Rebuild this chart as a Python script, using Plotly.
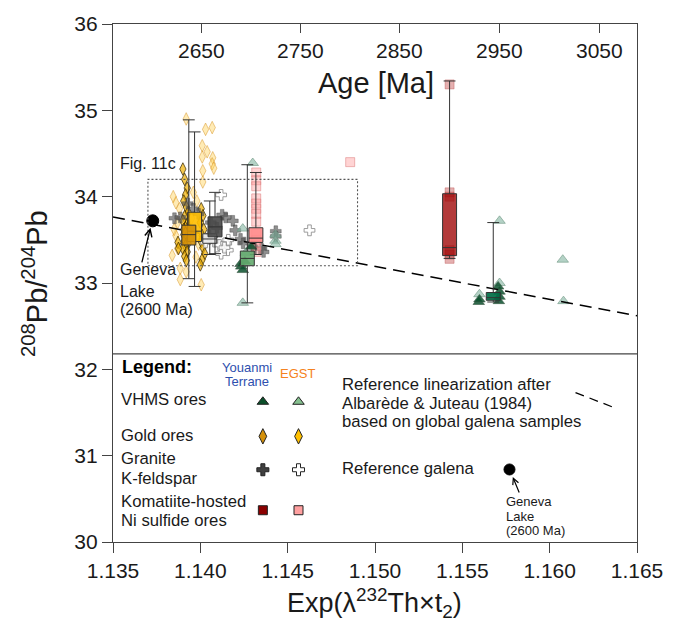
import numpy as np
import plotly.graph_objects as go

FONT = "Liberation Sans, Arial, sans-serif"
LAMBDA_232 = 4.9475e-11  # 1/yr

# ---------------- axes ----------------
x_ticks = [1.135, 1.140, 1.145, 1.150, 1.155, 1.160, 1.165]
y_ticks = [30, 31, 32, 33, 34, 35, 36]
age_ticks = [2650, 2750, 2850, 2950, 3050]
age_pos = list(np.exp(LAMBDA_232 * np.array(age_ticks) * 1e6))

# ---------------- data ----------------
# Gold ores
gold_egst_x = [1.13919, 1.14030, 1.14068, 1.14011, 1.14039, 1.14011, 1.14071, 1.14068, 1.14077, 1.14014,
               1.14014, 1.13845, 1.13860, 1.13881, 1.13870, 1.13839, 1.13885, 1.13885, 1.14005, 1.13919,
               1.13960, 1.13980, 1.13950, 1.13990, 1.13860, 1.13975, 1.13850, 1.13870]
gold_egst_y = [34.90, 34.78, 34.80, 34.59, 34.52, 34.46, 34.45, 34.38, 34.33, 34.30,
               34.17, 34.00, 33.93, 33.86, 33.70, 33.32, 33.17, 33.04, 32.98, 33.13,
               34.05, 33.95, 33.75, 33.45, 33.55, 33.30, 33.62, 33.40]
gold_you_x = [1.13900, 1.13910, 1.13925, 1.13915, 1.13905, 1.13920, 1.13930, 1.13910, 1.13900, 1.13925,
              1.13915, 1.13935, 1.13905, 1.13920, 1.13910, 1.13930, 1.13915, 1.13900, 1.13925, 1.13910,
              1.13920, 1.13905, 1.13915, 1.14005, 1.14015, 1.14000, 1.14020, 1.14010, 1.14005, 1.14015,
              1.14025, 1.14010, 1.14000, 1.13872, 1.13875]
gold_you_y = [34.32, 34.20, 34.10, 34.02, 33.95, 33.88, 33.82, 33.77, 33.72, 33.68,
              33.64, 33.60, 33.56, 33.52, 33.49, 33.46, 33.43, 33.40, 33.36, 33.31,
              33.26, 33.62, 33.58, 33.86, 33.78, 33.70, 33.62, 33.55, 33.48, 33.41,
              33.34, 33.27, 33.21, 33.47, 33.40]
# Granite K-feldspar
gran_you_x = [1.13852, 1.13885, 1.13928, 1.13960, 1.14125, 1.14145, 1.14186, 1.14200, 1.14230, 1.14245,
              1.14300, 1.14350, 1.14362, 1.14432, 1.14432, 1.14060, 1.14095, 1.13990]
gran_you_y = [33.75, 33.76, 33.92, 33.86, 33.79, 33.76, 33.72, 33.61, 33.51, 33.46,
              33.42, 33.40, 33.36, 33.60, 33.54, 33.70, 33.64, 33.80]
gran_egst_x = [1.14119, 1.14081, 1.14110, 1.14148, 1.14157, 1.14119, 1.14138, 1.14160, 1.14625, 1.14050, 1.14030]
gran_egst_y = [34.02, 33.48, 33.44, 33.46, 33.38, 33.34, 33.41, 33.50, 33.61, 33.55, 33.47]
# Komatiite-hosted Ni sulfide ores
ni_egst_x = [1.14320] * 12 + [1.14858]
ni_egst_y = [34.28, 34.19, 34.12, 33.98, 33.92, 33.86, 33.80, 33.71, 33.57, 33.50, 33.43, 33.36, 34.40]
ni_you_x = [1.15427] * 6
ni_you_y = [35.30, 34.05, 34.00, 33.38, 33.33, 33.28]
# VHMS ores
vhms_you_x = [1.14234, 1.14243, 1.14255, 1.14291, 1.14230, 1.15594, 1.15598, 1.15709, 1.15713, 1.15713, 1.15705]
vhms_you_y = [33.19, 33.15, 33.25, 33.42, 33.22, 32.78, 32.81, 32.79, 32.84, 32.90, 32.96]
vhms_egst_x = [1.14300, 1.14243, 1.14430, 1.14430, 1.14243, 1.15598, 1.15713, 1.15713, 1.16075, 1.16079, 1.14260, 1.14430]
vhms_egst_y = [34.39, 33.63, 33.56, 33.49, 32.77, 32.87, 33.72, 33.00, 33.27, 32.79, 33.35, 33.45]

# box summaries (drawn in this order)
box_pos = [1.13967, 1.13934, 1.14054, 1.14084, 1.14318, 1.14269, 1.15427, 1.15677]
box_q1 = [33.48, 33.44, 33.46, 33.535, 33.47, 33.20, 33.317, 32.80]
box_med = [33.60, 33.56, 33.51, 33.65, 33.52, 33.285, 33.41, 32.83]
box_q3 = [33.82, 33.67, 33.57, 33.766, 33.64, 33.37, 34.034, 32.89]
box_lo = [32.96, 33.05, 33.33, 33.34, 33.33, 32.77, 33.285, 32.78]
box_hi = [34.75, 34.89, 33.95, 34.05, 34.28, 34.37, 35.34, 33.70]
box_fill = ["rgba(255,190,0,0.9)", "rgba(212,144,10,0.9)", "rgba(232,232,232,0.92)",
            "rgba(72,72,72,0.9)", "rgba(255,140,140,0.9)", "rgba(100,170,110,0.9)",
            "rgba(160,10,10,0.80)", "rgba(0,110,70,0.92)"]

# reference linearization (Albarede & Juteau 1984)
ref_x = [1.135, 1.165]
ref_y = [33.765, 32.62]
# reference galena: Geneva Lake (2600 Ma)
geneva_age = 2600
geneva_x = [float(np.exp(LAMBDA_232 * geneva_age * 1e6))]
geneva_y = [33.72]

fig = go.Figure()


def pts(x, y, symbol, size, fill, edge, ew=1.0, xaxis="x"):
    fig.add_trace(go.Scatter(x=x, y=y, mode="markers", xaxis=xaxis,
                             marker=dict(symbol=symbol, size=size, color=fill,
                                         line=dict(color=edge, width=ew)),
                             showlegend=False, hoverinfo="skip"))


pts(gold_egst_x, gold_egst_y, "diamond-tall", 9, "rgba(255,210,90,0.45)", "rgba(215,150,40,0.5)")
pts(gold_you_x, gold_you_y, "diamond-tall", 9, "rgba(240,175,0,0.7)", "rgba(50,35,0,0.7)")
pts(gran_egst_x, gran_egst_y, "cross", 9, "rgba(255,255,255,0.85)", "rgba(140,140,140,0.85)")
pts(gran_you_x, gran_you_y, "cross", 9, "rgba(85,85,85,0.65)", "rgba(70,70,70,0.4)")
pts(ni_egst_x, ni_egst_y, "square", 9, "rgba(255,160,160,0.45)", "rgba(220,120,120,0.5)")
pts(ni_you_x, ni_you_y, "square", 9, "rgba(180,30,30,0.35)", "rgba(180,60,60,0.35)")
pts(vhms_egst_x, vhms_egst_y, "triangle-up", 10, "rgba(130,180,160,0.6)", "rgba(110,150,130,0.6)")
pts(vhms_you_x, vhms_you_y, "triangle-up", 10, "rgba(10,80,45,0.85)", "rgba(60,90,70,0.6)")

fig.add_trace(go.Scatter(x=ref_x, y=ref_y, mode="lines",
                         line=dict(color="black", width=1.5, dash="12px,7px"),
                         showlegend=False, hoverinfo="skip"))
pts(geneva_x, geneva_y, "circle", 12, "black", "black")

# legend symbols
leg_x = [1.14358, 1.14562]
leg_rows = [31.624, 31.224, 30.837, 30.368]
leg_sym = ["triangle-up", "diamond-tall", "cross", "square"]
leg_size = [10, 11, 10, 9]
leg_fill = [["#0b4f2a", "#86c08f"], ["#d4900a", "#ffc000"], ["#404040", "#ffffff"], ["#8b0000", "#ffa0a0"]]
for r in range(4):
    for c in range(2):
        pts([leg_x[c]], [leg_rows[r]], leg_sym[r], leg_size[r], leg_fill[r][c], "#222", 1.0)
leg_line_x = [1.16148, 1.16381]
leg_line_y = [31.731, 31.547]
fig.add_trace(go.Scatter(x=leg_line_x, y=leg_line_y, mode="lines",
                         line=dict(color="black", width=1.3, dash="9px,6px"),
                         showlegend=False, hoverinfo="skip"))
leg_dot_x = [1.15770]
leg_dot_y = [30.84]
pts(leg_dot_x, leg_dot_y, "circle", 11, "black", "black")

# boxes on the overlaying axis so they sit above the scatter points
for i in range(len(box_pos)):
    fig.add_trace(go.Box(x=[box_pos[i]], q1=[box_q1[i]], median=[box_med[i]], q3=[box_q3[i]],
                         lowerfence=[box_lo[i]], upperfence=[box_hi[i]], xaxis="x2",
                         width=0.0008, whiskerwidth=0.85, fillcolor=box_fill[i],
                         line=dict(color="#333333", width=1), boxpoints=False,
                         showlegend=False, hoverinfo="skip"))

# ---------------- shapes ----------------
fig.add_shape(type="rect", x0=1.137, x1=1.149, y0=33.2, y1=34.2, xref="x", yref="y",
              line=dict(color="#555", width=1.1, dash="2px,2px"))
fig.add_shape(type="line", x0=0, x1=1, y0=32.18, y1=32.18, xref="paper", yref="y",
              line=dict(color="#444", width=1.2))

# ---------------- annotations ----------------
ann = []


def txt(x, y, s, size=16.7, color="#1a1a1a", xanchor="left", yanchor="middle", **kw):
    ann.append(dict(x=x, y=y, xref="paper", yref="paper", text=s, showarrow=False,
                    xanchor=xanchor, yanchor=yanchor,
                    font=dict(family=FONT, size=size, color=color), **kw))


for a, p in zip(age_ticks, age_pos):
    ann.append(dict(x=p, y=0.948, xref="x", yref="paper", text=str(a), showarrow=False,
                    xanchor="center", yanchor="middle", font=dict(family=FONT, size=21, color="#1a1a1a")))
txt(0.501, 0.8868, "Age [Ma]", size=29, xanchor="center")
txt(0.0092, 0.730, "Fig. 11c", size=16)
txt(0.0092, 0.5253, "Geneva", size=16)
txt(0.0092, 0.4837, "Lake", size=16)
txt(0.0092, 0.4497, "(2600 Ma)", size=16)
ann.append(dict(x=(151 - 113.5) / 524, y=(542 - 226) / 521, xref="paper", yref="paper",
                ax=-9, ay=36, showarrow=True, arrowhead=5, arrowsize=1.1, arrowwidth=1.3,
                arrowcolor="black", text=""))

txt(0.0137, 0.3378, "<b>Legend:</b>", size=18, color="black")
txt(0.2557, 0.3378, "Youanmi", size=13, color="#2e4fae", xanchor="center")
txt(0.2557, 0.3093, "Terrane", size=13, color="#2e4fae", xanchor="center")
txt(0.352, 0.3257, "EGST", size=13, color="#f58220", xanchor="center")
txt(0.0111, 0.2758, "VHMS ores")
txt(0.0111, 0.2054, "Gold ores")
txt(0.0111, 0.1607, "Granite")
txt(0.0111, 0.1223, "K-feldspar")
txt(0.0111, 0.0774, "Komatiite-hosted")
txt(0.0111, 0.0422, "Ni sulfide ores")
txt(0.4336, 0.3046, "Reference linearization after")
txt(0.4336, 0.2681, "Albarède &amp; Juteau (1984)")
txt(0.4336, 0.2322, "based on global galena samples")
txt(0.4336, 0.1415, "Reference galena")
txt(0.7458, 0.0787, "Geneva", size=13)
txt(0.7458, 0.0499, "Lake", size=13)
txt(0.7458, 0.0217, "(2600 Ma)", size=13)
ann.append(dict(x=(513.3 - 113.5) / 524, y=(542 - 476.7) / 521, xref="paper", yref="paper",
                ax=7, ay=17, showarrow=True, arrowhead=5, arrowsize=1.0, arrowwidth=1.2,
                arrowcolor="black", text=""))

# axis titles
txt(-0.1498, 0.499, "<sup>208</sup>Pb/<sup>204</sup>Pb", size=29, xanchor="center", textangle=-90)
txt(0.499, -0.118, "Exp(λ<sup>232</sup>Th×t<sub>2</sub>)", size=27, xanchor="center")

fig.update_layout(
    width=681, height=624,
    margin=dict(l=113, r=44, t=21, b=82),
    paper_bgcolor="white", plot_bgcolor="white",
    boxmode="overlay",
    showlegend=False,
    annotations=ann,
    xaxis=dict(range=[1.135, 1.165], tickvals=x_ticks, ticktext=[f"{v:.3f}" for v in x_ticks],
               ticks="outside", ticklen=10, tickcolor="#444", showline=True, linecolor="#444",
               linewidth=1.2, mirror=True, showgrid=False, zeroline=False,
               tickfont=dict(family=FONT, size=21, color="#1a1a1a")),
    xaxis2=dict(range=[1.135, 1.165], overlaying="x", side="top", tickvals=age_pos,
                ticks="inside", ticklen=9, tickcolor="#444", showticklabels=False,
                showgrid=False, zeroline=False, showline=False),
    yaxis=dict(range=[30, 36], tickvals=y_ticks, ticks="outside", ticklen=10, tickcolor="#444",
               showline=True, linecolor="#444", linewidth=1.2, mirror=True, showgrid=False,
               zeroline=False, tickfont=dict(family=FONT, size=21, color="#1a1a1a")),
)

fig.write_html("out.html")
